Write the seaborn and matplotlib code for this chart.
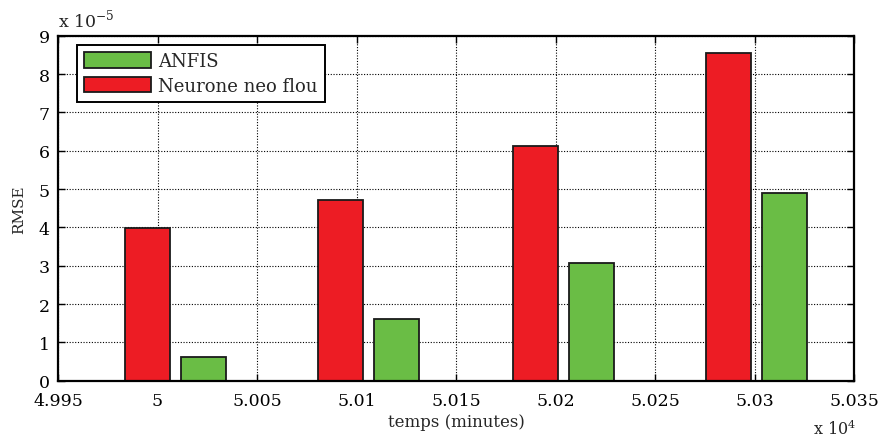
import matplotlib
matplotlib.use("Agg")
import matplotlib.pyplot as plt
import seaborn as sns
import pandas as pd

# Data (RMSE in units of 1e-5, time in minutes)
temps = [50009, 50106, 50204, 50301]
rmse_neurone = [3.99, 4.72, 6.11, 8.55]
rmse_anfis = [0.63, 1.61, 3.07, 4.90]
methods = ["Neurone neo flou", "ANFIS"]
colors = {"Neurone neo flou": "#ED1C24", "ANFIS": "#6ABD45"}
xticks = [49950, 50000, 50050, 50100, 50150, 50200, 50250, 50300, 50350]
xticklabels = ["4.995", "5", "5.005", "5.01", "5.015", "5.02", "5.025", "5.03", "5.035"]
yticks = [0, 1, 2, 3, 4, 5, 6, 7, 8, 9]

df = pd.DataFrame({
    "temps": temps * 2,
    "RMSE": rmse_neurone + rmse_anfis,
    "method": [methods[0]] * len(temps) + [methods[1]] * len(temps),
})

sns.set_style("white")
plt.rcParams["font.family"] = ["DejaVu Serif"]

fig = plt.figure(figsize=(8.8, 4.39), dpi=100)
ax = fig.add_axes([58 / 880, 1 - 381.7 / 439, (854 - 58) / 880, (381.7 - 36.7) / 439])

sns.barplot(data=df, x="temps", y="RMSE", hue="method", hue_order=methods,
            palette=colors, native_scale=True, width=0.577, gap=0.196,
            errorbar=None, edgecolor="#1a1a1a", linewidth=1.3, saturation=1,
            ax=ax, zorder=2)

ax.set_xlim(49950, 50350)
ax.set_ylim(0, 9)
ax.set_xticks(xticks)
ax.set_xticklabels(xticklabels)
ax.set_yticks(yticks)
ax.set_yticklabels([str(v) for v in yticks])
ax.set_axisbelow(True)
ax.grid(True, color="black", linestyle=(0, (1, 1.5)), linewidth=0.8)

for s in ax.spines.values():
    s.set_visible(True)
    s.set_color("black")
    s.set_linewidth(1.6)

ax.tick_params(direction="in", length=5, width=1.0, top=True, right=True,
               bottom=True, left=True, labelsize=12.5, colors="black")
ax.tick_params(axis="x", pad=8)
ax.tick_params(axis="y", pad=6)

ax.set_xlabel("temps (minutes)", fontsize=12, labelpad=3)
ax.set_ylabel("RMSE", fontsize=11, labelpad=9)

fig.text(58 / 880, 1 - 27 / 439, r"x 10$^{\mathregular{-5}}$",
         fontsize=12.5, ha="left", va="baseline")
fig.text(856 / 880, 1 - 435 / 439, r"x 10$^{\mathregular{4}}$",
         fontsize=11.5, ha="right", va="baseline")

handles, labels = ax.get_legend_handles_labels()
hmap = dict(zip(labels, handles))
order = ["ANFIS", "Neurone neo flou"]
leg = ax.legend([hmap[k] for k in order], order, loc="upper left",
                bbox_to_anchor=(0.024, 0.973), borderaxespad=0, fontsize=13,
                handlelength=3.7, handleheight=0.95, handletextpad=0.4,
                fancybox=False, framealpha=1, edgecolor="black",
                borderpad=0.4, labelspacing=0.35)
leg.get_frame().set_linewidth(1.4)

fig.savefig("out.png", dpi=100)
